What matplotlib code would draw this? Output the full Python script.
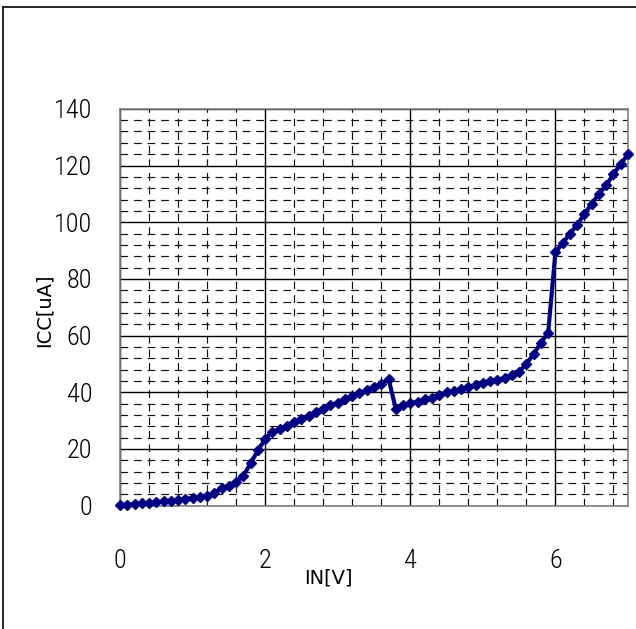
import matplotlib
matplotlib.use("Agg")
import matplotlib.pyplot as plt
import numpy as np
from matplotlib.lines import Line2D

# Data: input voltage (V) and supply current (uA)
voltage = [round(0.1 * i, 1) for i in range(71)]
current = [
    0.3, 0.4, 0.6, 0.8, 1.0, 1.2, 1.5, 1.8, 2.0, 2.4,
    2.7, 3.0, 3.4, 4.5, 6.2, 7.0, 8.5, 10.5, 15.0, 19.5,
    23.5, 26.0, 27.0, 28.2, 29.6, 30.6, 31.8, 33.0, 34.1, 35.4,
    36.3, 37.5, 38.7, 39.6, 40.8, 41.8, 42.9, 44.8, 34.2, 35.5,
    36.1, 36.7, 37.5, 38.1, 39.0, 40.0, 40.5, 41.2, 42.0, 42.6,
    43.2, 44.0, 44.5, 45.0, 46.0, 47.3, 50.0, 53.5, 57.5, 61.0,
    89.5, 92.5, 96.0, 99.0, 103.0, 106.5, 110.0, 113.0, 117.0, 120.5,
    124.0,
]
x_ticks = [0, 2, 4, 6]
y_ticks = [0, 20, 40, 60, 80, 100, 120, 140]
x_label = "IN[V]"
y_label = "ICC[uA]"

W, H = 636, 629
fig = plt.figure(figsize=(W / 100, H / 100), dpi=100)
fig.patch.set_facecolor("white")

left, right, top, bottom = 120, 628, 108.8, 505.7
ax = fig.add_axes([left / W, 1 - bottom / H, (right - left) / W, (bottom - top) / H])
ax.set_xlim(0, 7)
ax.set_ylim(0, 140)

# grid
ax.set_xticks(x_ticks)
ax.set_yticks(y_ticks)
ax.set_xticks(np.arange(0, 7.01, 0.4), minor=True)
ax.set_yticks(np.arange(0, 140.01, 4), minor=True)
ax.grid(which="minor", color="#111111", linewidth=0.85, linestyle=(0, (6.5, 5)))
ax.grid(which="major", color="black", linewidth=1.0, linestyle="-")
ax.set_axisbelow(True)
ax.tick_params(which="both", length=0)
ax.tick_params(axis="y", pad=20)
ax.tick_params(axis="x", pad=31)

tick_font = ["Roboto Condensed", "Archivo Narrow", "PT Sans Narrow", "DejaVu Sans"]
ax.set_xticklabels([str(t) for t in x_ticks], fontsize=19, family=tick_font,
                   fontweight="light")
ax.set_yticklabels([str(t) for t in y_ticks], fontsize=19, family=tick_font,
                   fontweight="light")

for s in ax.spines.values():
    s.set_color("#808080")
    s.set_linewidth(1.2)

ax.plot(voltage, current, color="#000080", linewidth=3, marker="D",
        markersize=5.5, markeredgecolor="#000080", markerfacecolor="#000080",
        clip_on=False, zorder=5)

fig.text(328 / W, 1 - 578 / H, x_label, ha="center", va="center", fontsize=14,
         family="DejaVu Sans")
fig.text(44 / W, 1 - 310 / H, y_label, ha="center", va="center", fontsize=14,
         rotation=90, family="DejaVu Sans")

# outer chart border
fig.add_artist(Line2D([3 / W, 3 / W], [0, 1 - 7 / H], transform=fig.transFigure,
                      color="black", linewidth=1.2))
fig.add_artist(Line2D([3 / W, 1], [1 - 7 / H, 1 - 7 / H], transform=fig.transFigure,
                      color="black", linewidth=1.2))

fig.savefig("out.png", dpi=100, facecolor="white")
